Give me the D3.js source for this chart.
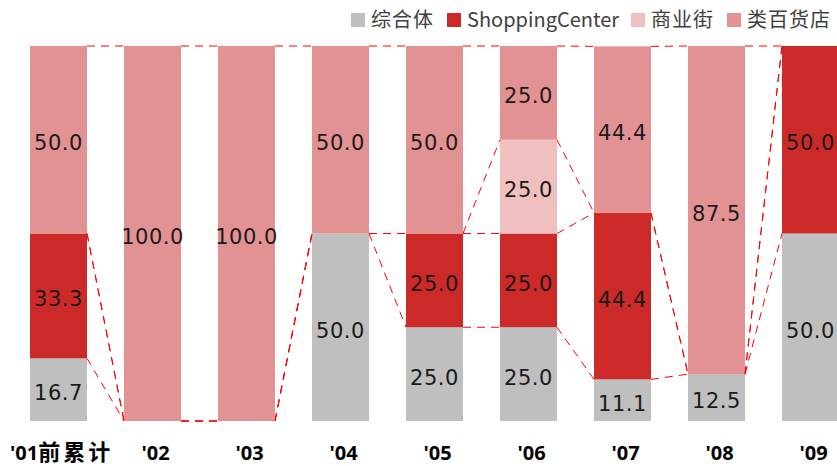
<!DOCTYPE html>
<html><head><meta charset="utf-8">
<script src="https://cdn.jsdelivr.net/npm/d3@7/dist/d3.min.js"></script>
<style>body{margin:0;background:#fff;}svg{display:block;}</style>
</head><body>
<script>
const categories = ["'01前累计","'02","'03","'04","'05","'06","'07","'08","'09"];
const seriesNames = ["综合体","ShoppingCenter","商业街","类百货店"];
const complexVals  = [16.7, 0, 0, 50, 25, 25, 11.1, 12.5, 50];
const shopCenterVals = [33.3, 0, 0, 0, 25, 25, 44.4, 0, 50];
const streetVals   = [0, 0, 0, 0, 0, 25, 0, 0, 0];
const deptVals     = [50, 100, 100, 50, 50, 25, 44.4, 87.5, 0];
const colors = ["#BFBFBF","#CC2929","#F0C0C1","#E39294"];

const W = 837, H = 466;
const svg = d3.select("body").append("svg").attr("width", W).attr("height", H);

const table = categories.map((c, i) => ({cat: c, s0: complexVals[i], s1: shopCenterVals[i], s2: streetVals[i], s3: deptVals[i]}));
const keys = ["s0","s1","s2","s3"];
const stacked = d3.stack().keys(keys)(table);

const x = d3.scaleBand().domain(categories).range([30, 839]).paddingInner(0.3936).paddingOuter(0);
const y = d3.scaleLinear().domain([0, 100]).range([421, 46]);

// bars
stacked.forEach((layer, k) => {
  svg.append("g").selectAll("rect").data(layer).join("rect")
    .attr("x", d => x(d.data.cat))
    .attr("width", x.bandwidth())
    .attr("y", d => y(d[1]))
    .attr("height", d => y(d[0]) - y(d[1]))
    .attr("fill", colors[k]);
});

// connector lines
const conn = svg.append("g");
stacked.forEach((layer, k) => {
  for (let i = 0; i < categories.length - 1; i++) {
    conn.append("line")
      .attr("x1", x(categories[i]) + x.bandwidth())
      .attr("x2", x(categories[i+1]))
      .attr("y1", y(layer[i][1]))
      .attr("y2", y(layer[i+1][1]))
      .attr("stroke", "#FF0000").attr("stroke-width", 1)
      .attr("stroke-dasharray", "8,6");
  }
});

// value labels
stacked.forEach((layer, k) => {
  svg.append("g").selectAll("text").data(layer.filter(d => d[1] - d[0] > 0)).join("text")
    .attr("x", d => x(d.data.cat) + x.bandwidth() / 2)
    .attr("y", d => (y(d[0]) + y(d[1])) / 2 + 3)
    .attr("dy", "0.36em")
    .attr("text-anchor", "middle")
    .attr("font-family", "DejaVu Sans, sans-serif")
    .attr("font-size", 21)
    .attr("letter-spacing", 0.5)
    .attr("fill", "#1a1a1a")
    .text(d => d3.format(".1f")(d[1] - d[0]));
});

// x axis labels
const xAxis = d3.axisBottom(x).tickSize(0).tickPadding(0);
const gx = svg.append("g").attr("transform", "translate(3,446)").call(xAxis);
gx.select(".domain").remove();
gx.selectAll("text")
  .attr("font-family", "Open Sans, sans-serif")
  .attr("font-weight", "bold")
  .attr("font-size", 20)
  .attr("fill", "#000")
  .attr("dy", "0.71em")
  .each(function(d) {
    const t = d3.select(this);
    const m = /^([^\u4e00-\u9fff]*)([\u4e00-\u9fff]*)$/.exec(d);
    if (m && m[2]) {
      t.text(null);
      t.append("tspan").text(m[1]);
      t.append("tspan").attr("font-family", "Noto Sans CJK SC, sans-serif")
        .attr("font-size", 22).attr("letter-spacing", 3).text(m[2]);
    }
  });
gx.selectAll(".tick").each(function() {
  const t = d3.select(this).select("text");
  const bb = t.node().getBBox();
  const tr = d3.select(this).attr("transform");
  const tx = +/translate\(([-\d.]+)/.exec(tr)[1] + 3;
  if (tx + bb.x < 10) t.attr("x", 10 - (tx + bb.x));
});

// legend
const legend = svg.append("g").attr("font-family", "Noto Sans CJK SC, sans-serif").attr("font-size", 20).attr("fill", "#404040");
const legX = [351, 447, 631, 727];
seriesNames.forEach((n, k) => {
  legend.append("rect").attr("x", legX[k]).attr("y", 13).attr("width", 14).attr("height", 14).attr("fill", colors[k]);
  legend.append("text").attr("x", legX[k] + 20).attr("y", 20).attr("dy", "0.35em")
    .attr("letter-spacing", /[\u4e00-\u9fff]/.test(n) ? 1 : 0).text(n);
});
</script>
</body></html>
